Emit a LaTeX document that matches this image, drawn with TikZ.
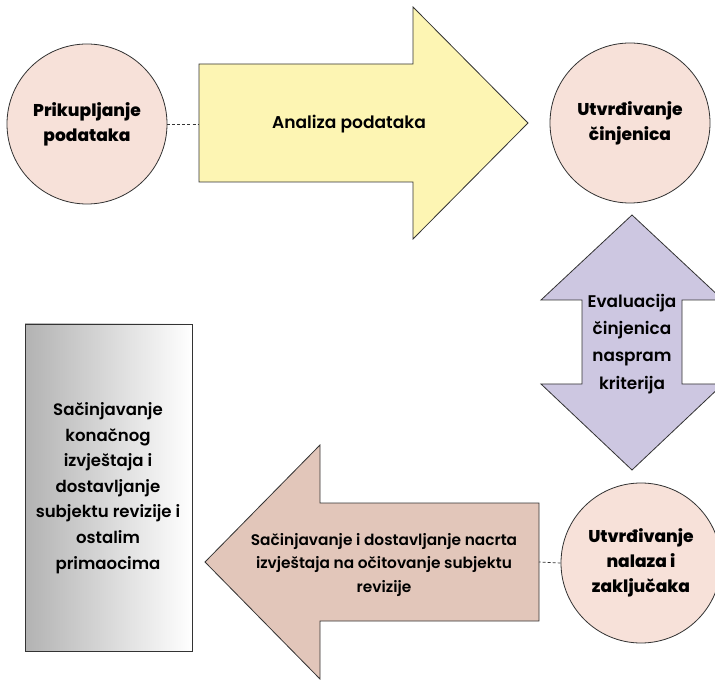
\documentclass[tikz,border=0pt]{standalone}
\usepackage{fontspec}
\setmainfont{Poppins}
\newfontfamily\heavyfont{Poppins ExtraBold}
\newfontfamily\semifont{Poppins SemiBold}
\usepackage{tikz}
\usetikzlibrary{positioning}

\definecolor{circfill}{HTML}{F7E1D9}
\definecolor{yellowarr}{HTML}{FDF5B3}
\definecolor{purplearr}{HTML}{CDC7E1}
\definecolor{brownarr}{HTML}{E2C6BA}
\definecolor{edgegray}{HTML}{333333}

\begin{document}
\begin{tikzpicture}[x=0.035cm,y=-0.035cm]
\tikzstyle{stage}=[circle,draw=edgegray,line width=0.8pt,fill=circfill,minimum size=160*0.035cm,inner sep=0pt,align=center,font=\heavyfont\fontsize{17}{25}\selectfont]
\tikzstyle{bigarrow}=[draw=edgegray,line width=0.8pt]
\tikzstyle{arrowtext}=[align=center,inner sep=0pt,font=\semifont\fontsize{17}{25}\selectfont]
\tikzstyle{link}=[densely dashed,draw=edgegray,line width=0.7pt]

\useasboundingbox (0,0) rectangle (715,682);
\clip (0,0) rectangle (715,682);

% circles
\node[stage] (prikupljanje) at (87,124) {Prikupljanje\\podataka};
\node[stage] (cinjenice) at (630,123) {Utvrđivanje\\činjenica};
\node[stage] (nalazi) at (641,563) {Utvrđivanje\\nalaza i\\zaključaka};

% arrows
\draw[bigarrow,fill=yellowarr] (199,64) -- (413,64) -- (413,7) -- (528,123) -- (413,239) -- (413,182) -- (199,182) -- cycle;
\draw[bigarrow,fill=purplearr] (632,215) -- (723,300) -- (682,300) -- (682,384) -- (723,384) -- (632,470) -- (541,384) -- (582,384) -- (582,300) -- (541,300) -- cycle;
\draw[bigarrow,fill=brownarr] (205,562) -- (320,445) -- (320,503) -- (539,503) -- (539,621) -- (320,621) -- (320,679) -- cycle;
\shade[left color=black!30,right color=white,draw=edgegray,line width=0.8pt] (25,324) rectangle (192,651);

\node[arrowtext] (analiza) at (349,124) {Analiza podataka};
\node[arrowtext,font=\semifont\fontsize{16.8}{27}\selectfont] (evaluacija) at (632,344) {Evaluacija\\činjenica\\naspram\\kriterija};
\node[arrowtext,font=\semifont\fontsize{15.3}{23}\selectfont] (nacrt) at (384,565) {Sačinjavanje i dostavljanje nacrta\\izvještaja na očitovanje subjektu\\revizije};
\node[arrowtext,font=\semifont\fontsize{16.5}{25.5}\selectfont] (konacni) at (108,488) {Sačinjavanje\\konačnog\\izvještaja i\\dostavljanje\\subjektu revizije i\\ostalim\\primaocima};

% dashed links
\coordinate (analizaL) at (199,124);
\coordinate (nacrtR) at (539,562);
\draw[link] (prikupljanje.east) -- (analizaL);
\draw[link] (nalazi.west) -- (nacrtR);
\end{tikzpicture}
\end{document}
